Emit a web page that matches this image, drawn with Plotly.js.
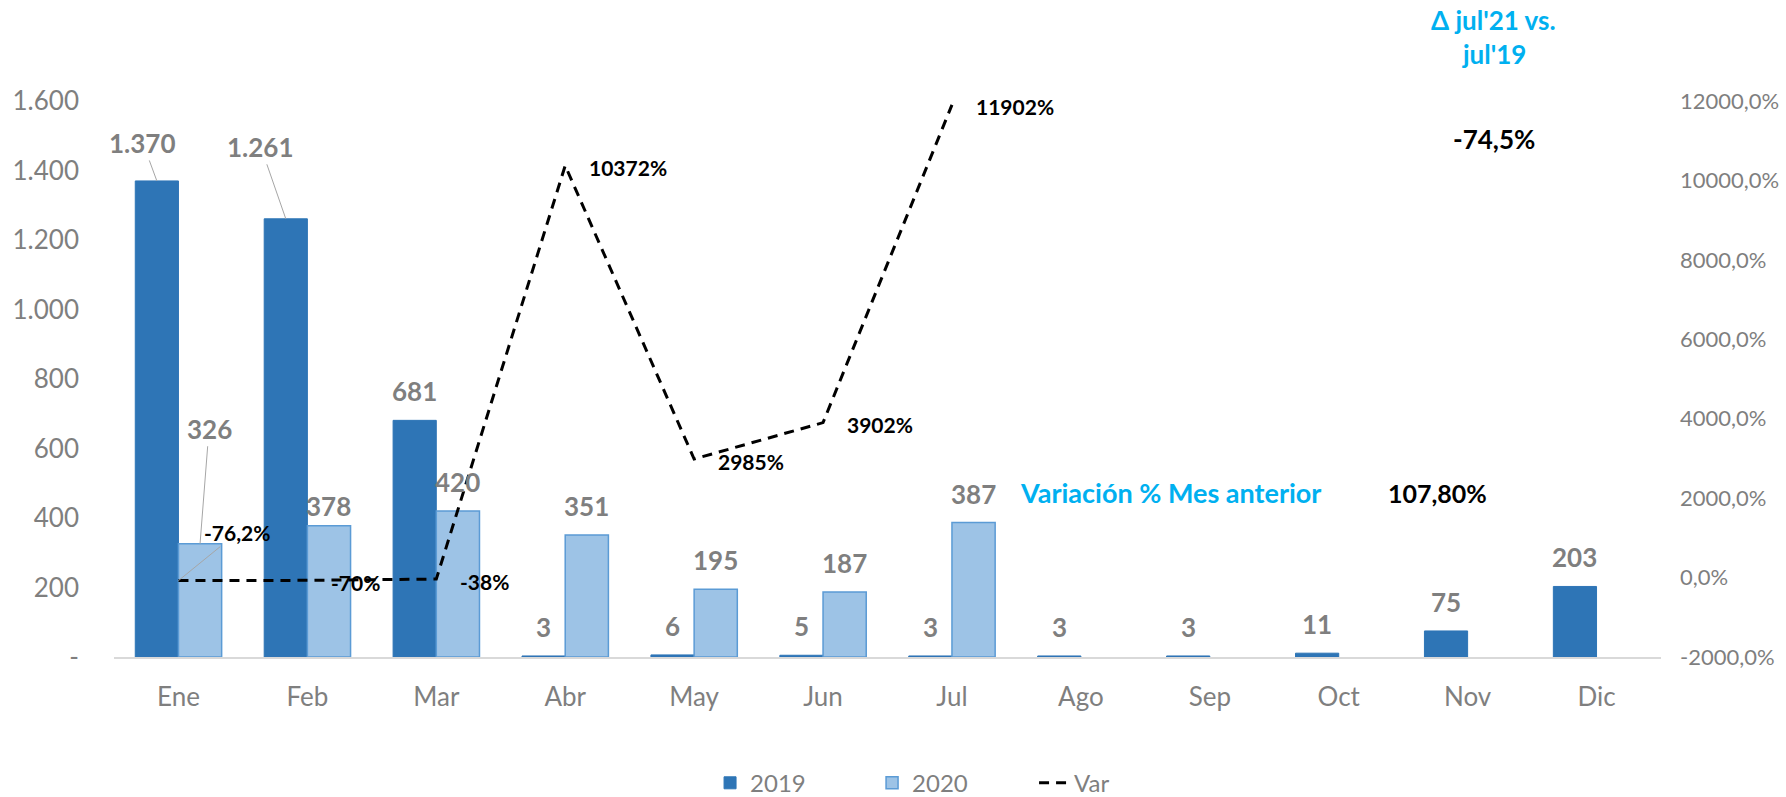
<!DOCTYPE html>
<html>
<head>
<meta charset="utf-8">
<script src="https://cdn.plot.ly/plotly-3.0.1.min.js"></script>
<style>html,body{margin:0;padding:0;background:#fff;}#chart{width:1786px;height:797px;}</style>
</head>
<body>
<div id="chart"></div>
<script>
const months = ['Ene','Feb','Mar','Abr','May','Jun','Jul','Ago','Sep','Oct','Nov','Dic'];
const v2019 = [1370,1261,681,3,6,5,3,3,3,11,75,203];
const v2020 = [326,378,420,351,195,187,387,null,null,null,null,null];
const varMonths = ['Ene','Feb','Mar','Abr','May','Jun','Jul'];
const varValues = [-76.2,-70,-38,10372,2985,3902,11902];
const varLabels = ['-76,2%','-70%','-38%','10372%','2985%','3902%','11902%'];
const leftTickVals = [0,200,400,600,800,1000,1200,1400,1600];
const leftTickText = ['-','200','400','600','800','1.000','1.200','1.400','1.600'];
const rightTickVals = [-2000,0,2000,4000,6000,8000,10000,12000];
const rightTickText = ['-2000,0%','0,0%','2000,0%','4000,0%','6000,0%','8000,0%','10000,0%','12000,0%'];
const deltaTitle = ["Δ jul'21 vs.", "jul'19"];
const deltaValue = '-74,5%';
const mesAnteriorLabel = 'Variación % Mes anterior';
const mesAnteriorValue = '107,80%';

const FONT = 'Lato, "Open Sans", sans-serif';
const GRAY = '#7f7f7f';
const BLUE_TXT = '#00B0F0';

function fmt(v){ return String(v).replace(/\B(?=(\d{3})+(?!\d))/g,'.'); }

const W = 1786, H = 797;
const margin = {l:114, r:125, t:101, b:140, autoexpand:false};
const plotW = W - margin.l - margin.r;
const bargap = 0.33;
const catW = plotW / months.length;
const barOff = (1 - bargap) / 2 * catW / 2;

const traces = [
  {type:'bar', name:'2019', x:months, y:v2019, marker:{color:'#2E75B6', line:{color:'#2E75B6', width:1}}, hoverinfo:'skip'},
  {type:'bar', name:'2020', x:months, y:v2020, marker:{color:'#9DC3E6', line:{color:'#5B9BD5', width:1.5}}, hoverinfo:'skip'},
  {type:'scatter', mode:'lines', name:'Var', x:varMonths, y:varValues, yaxis:'y2',
   line:{color:'#000', width:3, dash:'10px,7px'}, hoverinfo:'skip'}
];

const BAR_LBL = 26;
const annotations = [];
// bar labels
const special2019 = {0:{ax:-14, ay:-38}, 1:{ax:-25, ay:-72}};
const special2020 = {0:{ax:9, ay:-115}};
const yshift2020 = {1:2};
v2019.forEach((v,i)=>{
  if (v==null) return;
  const a = {x:months[i], y:v, xref:'x', yref:'y', text:fmt(v),
    font:{family:FONT, size:BAR_LBL, color:GRAY, weight:'bold'}};
  if (special2019[i]) {
    Object.assign(a, {showarrow:true, arrowhead:0, arrowwidth:1, arrowcolor:'#a6a6a6',
      ax:special2019[i].ax, ay:special2019[i].ay, xshift:-barOff});
  } else {
    Object.assign(a, {showarrow:false, xshift:-barOff, yanchor:'bottom', yshift:11});
  }
  annotations.push(a);
});
v2020.forEach((v,i)=>{
  if (v==null) return;
  const a = {x:months[i], y:v, xref:'x', yref:'y', text:fmt(v),
    font:{family:FONT, size:BAR_LBL, color:GRAY, weight:'bold'}};
  if (special2020[i]) {
    Object.assign(a, {showarrow:true, arrowhead:0, arrowwidth:1, arrowcolor:'#a6a6a6',
      ax:special2020[i].ax, ay:special2020[i].ay, xshift:barOff});
  } else {
    Object.assign(a, {showarrow:false, xshift:barOff, yanchor:'bottom',
      yshift:(yshift2020[i]!==undefined?yshift2020[i]:11)});
  }
  annotations.push(a);
});
// line labels
varValues.forEach((v,i)=>{
  const a = {x:varMonths[i], y:v, xref:'x', yref:'y2', text:varLabels[i],
    font:{family:FONT, size:21, color:'#000', weight:'bold'}};
  if (i===0) {
    Object.assign(a, {showarrow:true, arrowhead:0, arrowwidth:1, arrowcolor:'#a6a6a6', ax:59, ay:-48});
  } else {
    Object.assign(a, {showarrow:false, xanchor:'left', xshift:22, yshift:-2});
  }
  annotations.push(a);
});
// text boxes
annotations.push(
  {xref:'paper', yref:'paper', x:0.892, xanchor:'center', yanchor:'middle', y:1.1464, text:deltaTitle[0], showarrow:false,
   font:{family:FONT, size:26, color:BLUE_TXT, weight:'bold'}},
  {xref:'paper', yref:'paper', x:0.892, xanchor:'center', yanchor:'middle', y:1.0853, text:deltaTitle[1], showarrow:false,
   font:{family:FONT, size:26, color:BLUE_TXT, weight:'bold'}},
  {xref:'paper', yref:'paper', x:0.892, xanchor:'center', yanchor:'middle', y:0.9324, text:deltaValue, showarrow:false,
   font:{family:FONT, size:26, color:'#000', weight:'bold'}},
  {xref:'paper', yref:'paper', x:0.683, xanchor:'center', yanchor:'middle', y:0.2956, text:mesAnteriorLabel, showarrow:false,
   font:{family:FONT, size:27, color:BLUE_TXT, weight:'bold'}},
  {xref:'paper', yref:'paper', x:0.8556, xanchor:'center', yanchor:'middle', y:0.2956, text:mesAnteriorValue, showarrow:false,
   font:{family:FONT, size:25, color:'#000', weight:'bold'}}
);

const layout = {
  width:W, height:H, autosize:false,
  margin:margin,
  paper_bgcolor:'#fff', plot_bgcolor:'#fff',
  font:{family:FONT, color:GRAY},
  barmode:'group', bargap:bargap, bargroupgap:0,
  showlegend:true,
  legend:{orientation:'h', x:0.3853, xanchor:'left', y:-0.227, yanchor:'middle',
    font:{family:FONT, size:24, color:GRAY}, entrywidth:117, entrywidthmode:'pixels', traceorder:'normal'},
  xaxis:{type:'category', range:[-0.5, months.length - 0.5], autorange:false,
    showline:true, linecolor:'#d9d9d9', linewidth:2, showgrid:false,
    zeroline:false, ticks:'', tickfont:{family:FONT, size:26, color:GRAY}, ticklabelstandoff:16},
  yaxis:{range:[0,1600], tickvals:leftTickVals, ticktext:leftTickText, showgrid:false,
    zeroline:false, showline:false, ticks:'', tickfont:{family:FONT, size:26, color:GRAY},
    ticklabelstandoff:34},
  yaxis2:{overlaying:'y', side:'right', range:[-2000,12000], tickvals:rightTickVals,
    ticktext:rightTickText, showgrid:false, zeroline:false, showline:false, ticks:'',
    tickfont:{family:FONT, size:22, color:GRAY}, ticklabelstandoff:18},
  annotations:annotations
};

Plotly.newPlot('chart', traces, layout, {displayModeBar:false, staticPlot:true});
</script>
</body>
</html>
